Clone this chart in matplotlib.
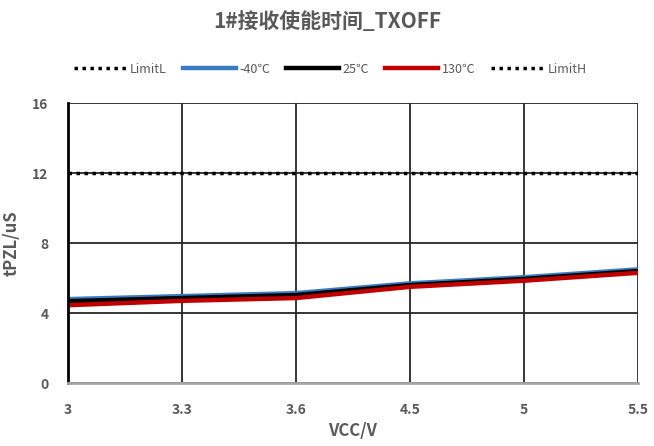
import numpy as np
import matplotlib.pyplot as plt
from matplotlib.lines import Line2D

plt.rcParams['font.family'] = ['Noto Sans CJK SC', 'DejaVu Sans']

vcc = ["3", "3.3", "3.6", "4.5", "5", "5.5"]
t_m40 = [4.8, 4.97, 5.14, 5.7, 6.05, 6.5]
t_25 = [4.68, 4.86, 5.03, 5.6, 5.95, 6.4]
t_130 = [4.45, 4.7, 4.86, 5.5, 5.85, 6.3]
limit_h = [12] * 6
limit_l = [np.nan] * 6

gray = "#595959"
dots = (0, (1, 1.3))

fig = plt.figure(figsize=(6.54, 4.46), dpi=100)
ax = fig.add_axes([0.104, 0.141, 0.8715, 0.628])

x = np.arange(len(vcc))
ax.plot(x, limit_l, color="black", linestyle=dots, linewidth=2.5, label="LimitL")
ax.plot(x, t_m40, color="#3a7cc4", linewidth=3.2, label="-40℃")
ax.plot(x, t_25, color="black", linewidth=3.2, label="25℃")
ax.plot(x, t_130, color="#c00000", linewidth=3.2, label="130℃")
ax.plot(x, limit_h, color="black", linestyle=dots, linewidth=2.5, label="LimitH")

ax.set_xlim(0, len(vcc) - 1)
ax.set_ylim(0, 16)
ax.set_xticks(x)
ax.set_xticklabels(vcc)
ax.set_yticks([0, 4, 8, 12, 16])
ax.grid(True, color="#262626", linewidth=1.3)
ax.tick_params(length=0, pad=14, labelsize=10, labelcolor=gray)
for lab in ax.get_xticklabels() + ax.get_yticklabels():
    lab.set_fontweight("bold")
for side in ["top", "right"]:
    ax.spines[side].set_visible(False)
ax.spines["left"].set_color("black")
ax.spines["left"].set_linewidth(2)
ax.spines["bottom"].set_color("#a6a6a6")
ax.spines["bottom"].set_linewidth(2)

ax.set_xlabel("VCC/V", fontsize=12, color=gray, fontweight="bold", labelpad=4)
ax.set_ylabel("tPZL/uS", fontsize=12, color=gray, fontweight="bold", labelpad=8)

fig.suptitle("1#接收使能时间_TXOFF", x=0.5, y=0.975, fontsize=15,
             color=gray, fontweight="bold")

handles, labels = ax.get_legend_handles_labels()
handles[0] = Line2D([], [], color="black", linestyle=dots, linewidth=2.5)
fig.legend(handles, labels, loc="center", bbox_to_anchor=(0.505, 0.845), ncol=5,
           frameon=False, fontsize=9, labelcolor=gray, handlelength=4.2,
           columnspacing=1.3, handletextpad=0.3)

fig.savefig("out.png", dpi=100)
